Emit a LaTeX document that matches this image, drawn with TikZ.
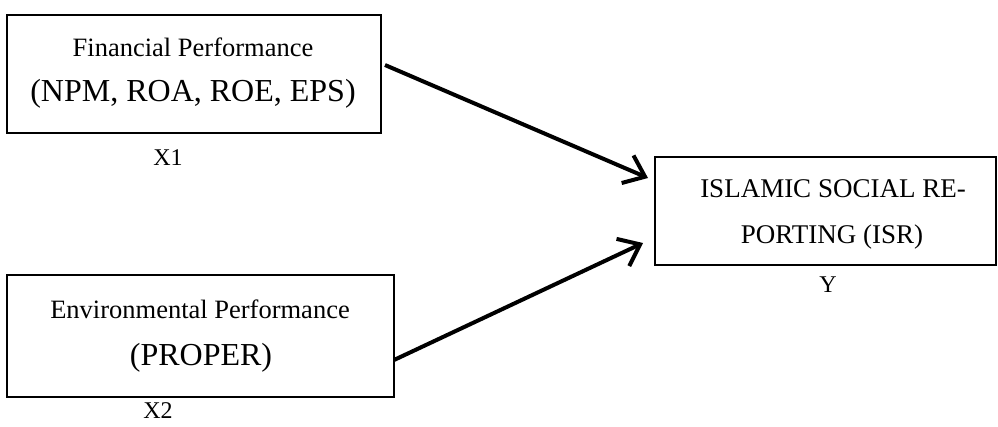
\documentclass[tikz,border=0pt]{standalone}
\usepackage{fontspec}
\setmainfont{Liberation Serif}
\usetikzlibrary{arrows.meta}
\begin{document}
\begin{tikzpicture}[x=1pt,y=-1pt,
  boxstyle/.style={draw,line width=1.6pt,inner sep=0pt},
  arr/.style={line width=4pt,-{Straight Barb[length=19pt,width=30pt,line width=4pt]}},
  small/.style={font=\fontsize{26.5}{30}\selectfont},
  big/.style={font=\fontsize{32}{36}\selectfont},
  lbl/.style={font=\fontsize{24}{28}\selectfont}]
\useasboundingbox (0,0) rectangle (998,426);
\node[boxstyle,minimum width=374pt,minimum height=118pt] (fp) at (194,74) {};
\node[small] (fpt1) at (193,47) {Financial Performance};
\node[big] (fpt2) at (193,94) {(NPM, ROA, ROE, EPS)};
\node[lbl] (x1) at (168,158) {X1};
\node[boxstyle,minimum width=387pt,minimum height=122pt] (ep) at (200.5,336) {};
\node[small] (ept1) at (200,309) {Environmental Performance};
\node[big] (ept2) at (201,358) {(PROPER)};
\node[lbl] (x2) at (158,411) {X2};
\node[boxstyle,minimum width=341pt,minimum height=108pt] (isr) at (825.5,211) {};
\node[font=\fontsize{27}{30}\selectfont] (isr1) at (833,189) {ISLAMIC SOCIAL RE-};
\node[font=\fontsize{27}{30}\selectfont] (isr2) at (832,237) {PORTING (ISR)};
\node[lbl] (y) at (828,285) {Y};
\coordinate (a1s) at (385,65);
\coordinate (a1e) at (648,178);
\coordinate (a2s) at (394,360);
\coordinate (a2e) at (643,243);
\draw[arr] (a1s) -- (a1e);
\draw[arr] (a2s) -- (a2e);
\end{tikzpicture}
\end{document}
